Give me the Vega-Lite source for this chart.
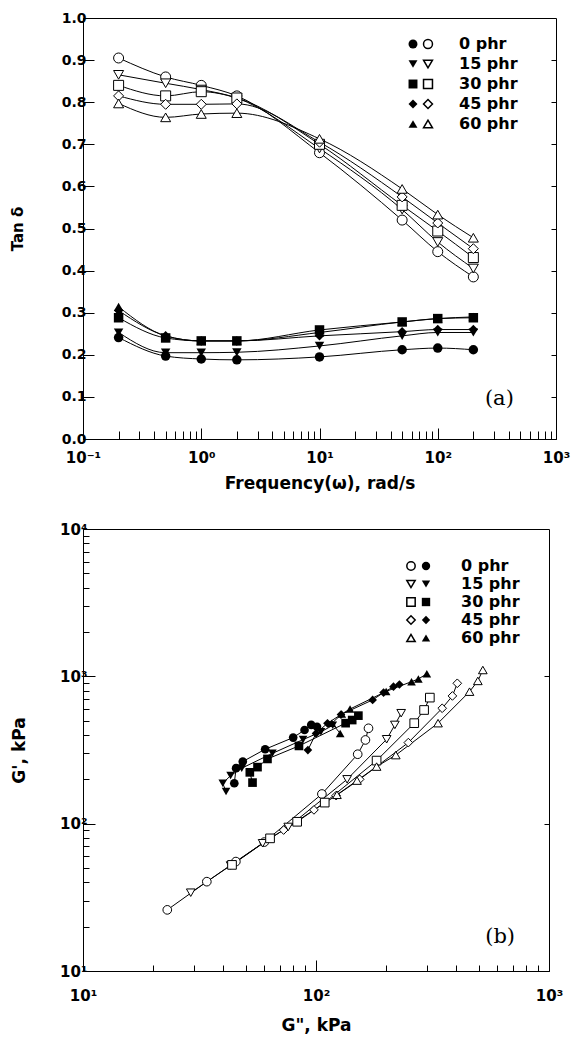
{
  "$schema": "https://vega.github.io/schema/vega-lite/v6.json",
  "padding": {"left": 9, "top": 10, "right": 0, "bottom": 0},
  "background": "white",
  "config": {
    "view": {"stroke": "black", "strokeWidth": 1},
    "axis": {"grid": false, "domainColor": "black", "tickColor": "black", "labelColor": "black", "titleColor": "black",
             "labelFont": "DejaVu Sans", "labelFontWeight": "bold", "labelFontSize": 14,
             "titleFont": "DejaVu Sans", "titleFontWeight": "bold", "titleFontSize": 17,
             "labelOverlap": false, "labelFlush": false, "tickWidth": 1},
    "legend": {"labelFont": "DejaVu Sans", "labelFontWeight": "bold", "labelFontSize": 16, "labelColor": "black", "padding": 0}
  },
  "datasets": {
    "tan": [
      {"f":0.2,"t":0.905,"p":"0 phr","k":"o"},{"f":0.5,"t":0.86,"p":"0 phr","k":"o"},{"f":1,"t":0.84,"p":"0 phr","k":"o"},{"f":2,"t":0.815,"p":"0 phr","k":"o"},{"f":10,"t":0.68,"p":"0 phr","k":"o"},{"f":50,"t":0.52,"p":"0 phr","k":"o"},{"f":100,"t":0.445,"p":"0 phr","k":"o"},{"f":200,"t":0.385,"p":"0 phr","k":"o"},
      {"f":0.2,"t":0.865,"p":"15 phr","k":"o"},{"f":0.5,"t":0.845,"p":"15 phr","k":"o"},{"f":1,"t":0.83,"p":"15 phr","k":"o"},{"f":2,"t":0.81,"p":"15 phr","k":"o"},{"f":10,"t":0.69,"p":"15 phr","k":"o"},{"f":50,"t":0.545,"p":"15 phr","k":"o"},{"f":100,"t":0.468,"p":"15 phr","k":"o"},{"f":200,"t":0.405,"p":"15 phr","k":"o"},
      {"f":0.2,"t":0.84,"p":"30 phr","k":"o"},{"f":0.5,"t":0.815,"p":"30 phr","k":"o"},{"f":1,"t":0.825,"p":"30 phr","k":"o"},{"f":2,"t":0.81,"p":"30 phr","k":"o"},{"f":10,"t":0.70,"p":"30 phr","k":"o"},{"f":50,"t":0.555,"p":"30 phr","k":"o"},{"f":100,"t":0.494,"p":"30 phr","k":"o"},{"f":200,"t":0.431,"p":"30 phr","k":"o"},
      {"f":0.2,"t":0.815,"p":"45 phr","k":"o"},{"f":0.5,"t":0.795,"p":"45 phr","k":"o"},{"f":1,"t":0.795,"p":"45 phr","k":"o"},{"f":2,"t":0.796,"p":"45 phr","k":"o"},{"f":10,"t":0.705,"p":"45 phr","k":"o"},{"f":50,"t":0.575,"p":"45 phr","k":"o"},{"f":100,"t":0.513,"p":"45 phr","k":"o"},{"f":200,"t":0.452,"p":"45 phr","k":"o"},
      {"f":0.2,"t":0.797,"p":"60 phr","k":"o"},{"f":0.5,"t":0.764,"p":"60 phr","k":"o"},{"f":1,"t":0.772,"p":"60 phr","k":"o"},{"f":2,"t":0.774,"p":"60 phr","k":"o"},{"f":10,"t":0.713,"p":"60 phr","k":"o"},{"f":50,"t":0.594,"p":"60 phr","k":"o"},{"f":100,"t":0.533,"p":"60 phr","k":"o"},{"f":200,"t":0.478,"p":"60 phr","k":"o"},
      {"f":0.2,"t":0.241,"p":"0 phr","k":"f"},{"f":0.5,"t":0.197,"p":"0 phr","k":"f"},{"f":1,"t":0.19,"p":"0 phr","k":"f"},{"f":2,"t":0.188,"p":"0 phr","k":"f"},{"f":10,"t":0.195,"p":"0 phr","k":"f"},{"f":50,"t":0.212,"p":"0 phr","k":"f"},{"f":100,"t":0.216,"p":"0 phr","k":"f"},{"f":200,"t":0.212,"p":"0 phr","k":"f"},
      {"f":0.2,"t":0.253,"p":"15 phr","k":"f"},{"f":0.5,"t":0.205,"p":"15 phr","k":"f"},{"f":1,"t":0.205,"p":"15 phr","k":"f"},{"f":2,"t":0.206,"p":"15 phr","k":"f"},{"f":10,"t":0.221,"p":"15 phr","k":"f"},{"f":50,"t":0.245,"p":"15 phr","k":"f"},{"f":100,"t":0.253,"p":"15 phr","k":"f"},{"f":200,"t":0.253,"p":"15 phr","k":"f"},
      {"f":0.2,"t":0.288,"p":"30 phr","k":"f"},{"f":0.5,"t":0.24,"p":"30 phr","k":"f"},{"f":1,"t":0.233,"p":"30 phr","k":"f"},{"f":2,"t":0.233,"p":"30 phr","k":"f"},{"f":10,"t":0.259,"p":"30 phr","k":"f"},{"f":50,"t":0.278,"p":"30 phr","k":"f"},{"f":100,"t":0.286,"p":"30 phr","k":"f"},{"f":200,"t":0.288,"p":"30 phr","k":"f"},
      {"f":0.2,"t":0.305,"p":"45 phr","k":"f"},{"f":0.5,"t":0.245,"p":"45 phr","k":"f"},{"f":1,"t":0.233,"p":"45 phr","k":"f"},{"f":2,"t":0.233,"p":"45 phr","k":"f"},{"f":10,"t":0.245,"p":"45 phr","k":"f"},{"f":50,"t":0.255,"p":"45 phr","k":"f"},{"f":100,"t":0.26,"p":"45 phr","k":"f"},{"f":200,"t":0.26,"p":"45 phr","k":"f"},
      {"f":0.2,"t":0.314,"p":"60 phr","k":"f"},{"f":0.5,"t":0.245,"p":"60 phr","k":"f"},{"f":1,"t":0.233,"p":"60 phr","k":"f"},{"f":2,"t":0.233,"p":"60 phr","k":"f"},{"f":10,"t":0.253,"p":"60 phr","k":"f"},{"f":50,"t":0.278,"p":"60 phr","k":"f"},{"f":100,"t":0.286,"p":"60 phr","k":"f"},{"f":200,"t":0.29,"p":"60 phr","k":"f"}
    ],
    "mod": [
      {"x":23,"y":26,"p":"0 phr","k":"o","i":1},{"x":34,"y":40.4,"p":"0 phr","k":"o","i":2},{"x":45.3,"y":55.3,"p":"0 phr","k":"o","i":3},{"x":60,"y":75,"p":"0 phr","k":"o","i":4},{"x":106,"y":159,"p":"0 phr","k":"o","i":5},{"x":151,"y":296,"p":"0 phr","k":"o","i":6},{"x":163,"y":370,"p":"0 phr","k":"o","i":7},{"x":168,"y":444,"p":"0 phr","k":"o","i":8},
      {"x":29,"y":34,"p":"15 phr","k":"o","i":1},{"x":43,"y":52,"p":"15 phr","k":"o","i":2},{"x":59,"y":73.6,"p":"15 phr","k":"o","i":3},{"x":76,"y":95,"p":"15 phr","k":"o","i":4},{"x":136,"y":200,"p":"15 phr","k":"o","i":5},{"x":201,"y":374,"p":"15 phr","k":"o","i":6},{"x":218,"y":468,"p":"15 phr","k":"o","i":7},{"x":232,"y":562,"p":"15 phr","k":"o","i":8},
      {"x":43.6,"y":52.5,"p":"30 phr","k":"o","i":1},{"x":63.5,"y":79.5,"p":"30 phr","k":"o","i":2},{"x":83,"y":103,"p":"30 phr","k":"o","i":3},{"x":109,"y":139,"p":"30 phr","k":"o","i":4},{"x":182,"y":268,"p":"30 phr","k":"o","i":5},{"x":264,"y":481,"p":"30 phr","k":"o","i":6},{"x":291,"y":591,"p":"30 phr","k":"o","i":7},{"x":308,"y":717,"p":"30 phr","k":"o","i":8},
      {"x":72.6,"y":90.5,"p":"45 phr","k":"o","i":1},{"x":98,"y":124,"p":"45 phr","k":"o","i":2},{"x":122,"y":155,"p":"45 phr","k":"o","i":3},{"x":154,"y":200,"p":"45 phr","k":"o","i":4},{"x":249,"y":355,"p":"45 phr","k":"o","i":5},{"x":348,"y":607,"p":"45 phr","k":"o","i":6},{"x":385,"y":736,"p":"45 phr","k":"o","i":7},{"x":404,"y":897,"p":"45 phr","k":"o","i":8},
      {"x":123,"y":157,"p":"60 phr","k":"o","i":1},{"x":150,"y":196,"p":"60 phr","k":"o","i":2},{"x":182,"y":244,"p":"60 phr","k":"o","i":3},{"x":220,"y":292,"p":"60 phr","k":"o","i":4},{"x":334,"y":481,"p":"60 phr","k":"o","i":5},{"x":456,"y":787,"p":"60 phr","k":"o","i":6},{"x":495,"y":931,"p":"60 phr","k":"o","i":7},{"x":520,"y":1104,"p":"60 phr","k":"o","i":8},
      {"x":44.6,"y":188,"p":"0 phr","k":"f","i":1},{"x":45.4,"y":238,"p":"0 phr","k":"f","i":2},{"x":48.5,"y":264,"p":"0 phr","k":"f","i":3},{"x":60.5,"y":320,"p":"0 phr","k":"f","i":4},{"x":79.8,"y":384,"p":"0 phr","k":"f","i":5},{"x":89.3,"y":432,"p":"0 phr","k":"f","i":6},{"x":95.4,"y":468,"p":"0 phr","k":"f","i":7},{"x":101,"y":455,"p":"0 phr","k":"f","i":8},
      {"x":41.1,"y":165,"p":"15 phr","k":"f","i":1},{"x":39.8,"y":188,"p":"15 phr","k":"f","i":2},{"x":43,"y":212,"p":"15 phr","k":"f","i":3},{"x":48,"y":238,"p":"15 phr","k":"f","i":4},{"x":65,"y":300,"p":"15 phr","k":"f","i":5},{"x":88,"y":372,"p":"15 phr","k":"f","i":6},{"x":105,"y":420,"p":"15 phr","k":"f","i":7},{"x":118,"y":465,"p":"15 phr","k":"f","i":8},
      {"x":53.4,"y":190,"p":"30 phr","k":"f","i":1},{"x":52,"y":223,"p":"30 phr","k":"f","i":2},{"x":56.1,"y":242,"p":"30 phr","k":"f","i":3},{"x":61.9,"y":275,"p":"30 phr","k":"f","i":4},{"x":84.5,"y":337,"p":"30 phr","k":"f","i":5},{"x":134,"y":481,"p":"30 phr","k":"f","i":6},{"x":143,"y":505,"p":"30 phr","k":"f","i":7},{"x":152,"y":541,"p":"30 phr","k":"f","i":8},
      {"x":92.3,"y":316,"p":"45 phr","k":"f","i":1},{"x":100,"y":410,"p":"45 phr","k":"f","i":2},{"x":112,"y":480,"p":"45 phr","k":"f","i":3},{"x":128,"y":550,"p":"45 phr","k":"f","i":4},{"x":175,"y":692,"p":"45 phr","k":"f","i":5},{"x":195,"y":776,"p":"45 phr","k":"f","i":6},{"x":215,"y":851,"p":"45 phr","k":"f","i":7},{"x":228,"y":880,"p":"45 phr","k":"f","i":8},
      {"x":127,"y":410,"p":"60 phr","k":"f","i":1},{"x":117,"y":480,"p":"60 phr","k":"f","i":2},{"x":129,"y":555,"p":"60 phr","k":"f","i":3},{"x":140,"y":600,"p":"60 phr","k":"f","i":4},{"x":200,"y":790,"p":"60 phr","k":"f","i":5},{"x":257,"y":920,"p":"60 phr","k":"f","i":6},{"x":275,"y":960,"p":"60 phr","k":"f","i":7},{"x":299,"y":1040,"p":"60 phr","k":"f","i":8}
    ]
  },
  "vconcat": [
    {
      "width": 473, "height": 421,
      "layer": [
        {
          "data": {"name": "tan"},
          "layer": [
            {
              "mark": {"type": "line", "interpolate": "monotone", "color": "black", "strokeWidth": 1},
              "encoding": {
                "x": {"field": "f", "type": "quantitative", "scale": {"type": "log", "domain": [0.1, 1000]},
                      "axis": {"title": "Frequency(ω), rad/s", "titlePadding": 7, "labelFontSize": 15,
                               "values": [0.1,0.2,0.3,0.4,0.5,0.6,0.7,0.8,0.9,1,2,3,4,5,6,7,8,9,10,20,30,40,50,60,70,80,90,100,200,300,400,500,600,700,800,900,1000],
                               "labelExpr": "abs(log(datum.value)/LN10 - round(log(datum.value)/LN10)) < 1e-6 ? ['10⁻¹','10⁰','10¹','10²','10³','10⁴'][round(log(datum.value)/LN10)+1] : ''",
                               "tickSize": {"condition": {"test": "abs(log(datum.value)/LN10 - round(log(datum.value)/LN10)) < 1e-6", "value": -11}, "value": -8},
                               "labelPadding": 22}},
                "y": {"field": "t", "type": "quantitative", "scale": {"domain": [0, 1]},
                      "axis": {"title": "Tan δ", "titleFontSize": 15, "titlePadding": 36,
                               "values": [0,0.05,0.1,0.15,0.2,0.25,0.3,0.35,0.4,0.45,0.5,0.55,0.6,0.65,0.7,0.75,0.8,0.85,0.9,0.95,1],
                               "labelExpr": "abs(datum.value*10 - round(datum.value*10)) < 1e-6 ? format(datum.value, '.1f') : ''",
                               "tickSize": {"condition": {"test": "abs(datum.value*10 - round(datum.value*10)) < 1e-6", "value": -11}, "value": -5},
                               "labelPadding": 8}},
                "detail": [{"field": "p"}, {"field": "k"}]
              }
            },
            {
              "transform": [{"filter": "datum.k == 'f'"}],
              "mark": {"type": "point", "filled": true, "color": "black", "size": 90, "opacity": 1},
              "encoding": {
                "x": {"field": "f", "type": "quantitative"},
                "y": {"field": "t", "type": "quantitative"},
                "shape": {"field": "p", "type": "nominal",
                          "scale": {"domain": ["0 phr","15 phr","30 phr","45 phr","60 phr"], "range": ["circle","triangle-down","square","diamond","triangle-up"]},
                          "legend": {"orient": "none", "legendX": 322, "legendY": 18, "title": null, "symbolSize": 80, "labelExpr": "' '", "rowPadding": 4, "labelOffset": 23}}
              }
            },
            {
              "transform": [{"filter": "datum.k == 'o'"}],
              "mark": {"type": "point", "filled": true, "fill": "white", "stroke": "black", "strokeWidth": 1, "size": 100, "opacity": 1},
              "encoding": {
                "x": {"field": "f", "type": "quantitative"},
                "y": {"field": "t", "type": "quantitative"},
                "shape": {"field": "p", "type": "nominal",
                          "scale": {"domain": ["0 phr","15 phr","30 phr","45 phr","60 phr"], "range": ["circle","triangle-down","square","diamond","triangle-up"]},
                          "legend": {"orient": "none", "legendX": 337, "legendY": 18, "title": null, "symbolSize": 80, "rowPadding": 4, "labelOffset": 23,
                                     "labelExpr": "length(datum.label) < 6 ? '\u2007' + datum.label : datum.label",
                                     "encode": {"symbols": {"update": {"fill": {"value": "white"}, "stroke": {"value": "black"}, "strokeWidth": {"value": 1}, "opacity": {"value": 1}}}}}}
              }
            }
          ],
          "resolve": {"scale": {"shape": "independent"}, "legend": {"shape": "independent"}}
        },
        {
          "data": {"values": [{}]},
          "mark": {"type": "text", "font": "DejaVu Serif", "fontSize": 21, "color": "black"},
          "encoding": {
            "x": {"datum": 332, "type": "quantitative", "scale": {"type": "log", "domain": [0.1, 1000]}},
            "y": {"datum": 0.095, "type": "quantitative", "scale": {"domain": [0, 1]},
                  "axis": {"orient": "right", "title": null, "labels": false, "domain": false,
                           "values": [0.1,0.2,0.3,0.4,0.5,0.6,0.7,0.8,0.9], "tickSize": -5}},
            "text": {"value": "(a)"}
          }
        }
      ],
      "resolve": {"scale": {"y": "independent"}, "axis": {"y": "independent"}}
    },
    {
      "width": 466, "height": 442,
      "layer": [
        {
          "data": {"name": "mod"},
          "layer": [
            {
              "mark": {"type": "line", "color": "black", "strokeWidth": 1},
              "encoding": {
                "x": {"field": "x", "type": "quantitative", "scale": {"type": "log", "domain": [10, 1000]},
                      "axis": {"title": "G\", kPa", "titlePadding": 9, "labelFontSize": 15,
                               "values": [10,20,30,40,50,60,70,80,90,100,200,300,400,500,600,700,800,900,1000],
                               "labelExpr": "abs(log(datum.value)/LN10 - round(log(datum.value)/LN10)) < 1e-6 ? ['10⁻¹','10⁰','10¹','10²','10³','10⁴'][round(log(datum.value)/LN10)+1] : ''",
                               "tickSize": {"condition": {"test": "abs(log(datum.value)/LN10 - round(log(datum.value)/LN10)) < 1e-6", "value": -11}, "value": -6},
                               "labelPadding": 28}},
                "y": {"field": "y", "type": "quantitative", "scale": {"type": "log", "domain": [10, 10000]},
                      "axis": {"title": "G', kPa", "titlePadding": 31, "labelFontSize": 15,
                               "values": [10,20,30,40,50,60,70,80,90,100,200,300,400,500,600,700,800,900,1000,2000,3000,4000,5000,6000,7000,8000,9000,10000],
                               "labelExpr": "abs(log(datum.value)/LN10 - round(log(datum.value)/LN10)) < 1e-6 ? ['10⁻¹','10⁰','10¹','10²','10³','10⁴'][round(log(datum.value)/LN10)+1] : ''",
                               "tickSize": {"condition": {"test": "abs(log(datum.value)/LN10 - round(log(datum.value)/LN10)) < 1e-6", "value": -12}, "value": -6},
                               "labelPadding": 8}},
                "detail": [{"field": "p"}, {"field": "k"}],
                "order": {"field": "i"}
              }
            },
            {
              "transform": [{"filter": "datum.k == 'o'"}],
              "mark": {"type": "point", "filled": true, "fill": "white", "stroke": "black", "strokeWidth": 1, "size": 75, "opacity": 1},
              "encoding": {
                "x": {"field": "x", "type": "quantitative"},
                "y": {"field": "y", "type": "quantitative"},
                "shape": {"field": "p", "type": "nominal",
                          "scale": {"domain": ["0 phr","15 phr","30 phr","45 phr","60 phr"], "range": ["circle","triangle-down","square","diamond","triangle-up"]},
                          "legend": {"orient": "none", "legendX": 320, "legendY": 29, "title": null, "symbolSize": 70, "labelExpr": "' '", "rowPadding": 2, "labelOffset": 27,
                                     "encode": {"symbols": {"update": {"fill": {"value": "white"}, "stroke": {"value": "black"}, "strokeWidth": {"value": 1}, "opacity": {"value": 1}}}}}}
              }
            },
            {
              "transform": [{"filter": "datum.k == 'f'"}],
              "mark": {"type": "point", "filled": true, "color": "black", "size": 75, "opacity": 1},
              "encoding": {
                "x": {"field": "x", "type": "quantitative"},
                "y": {"field": "y", "type": "quantitative"},
                "shape": {"field": "p", "type": "nominal",
                          "scale": {"domain": ["0 phr","15 phr","30 phr","45 phr","60 phr"], "range": ["circle","triangle-down","square","diamond","triangle-up"]},
                          "legend": {"orient": "none", "legendX": 335, "legendY": 29, "title": null, "symbolSize": 70, "rowPadding": 2, "labelOffset": 27,
                                     "labelExpr": "length(datum.label) < 6 ? '\u2007' + datum.label : datum.label"}}
              }
            }
          ],
          "resolve": {"scale": {"shape": "independent"}, "legend": {"shape": "independent"}}
        },
        {
          "data": {"values": [{}]},
          "mark": {"type": "text", "font": "DejaVu Serif", "fontSize": 21, "color": "black"},
          "encoding": {
            "x": {"datum": 617, "type": "quantitative", "scale": {"type": "log", "domain": [10, 1000]}},
            "y": {"datum": 16.9, "type": "quantitative", "scale": {"type": "log", "domain": [10, 10000]},
                  "axis": {"orient": "right", "title": null, "labels": false, "domain": false,
                           "values": [100, 1000], "tickSize": -5}},
            "text": {"value": "(b)"}
          }
        }
      ],
      "resolve": {"scale": {"y": "independent"}, "axis": {"y": "independent"}}
    }
  ],
  "spacing": 29
}
